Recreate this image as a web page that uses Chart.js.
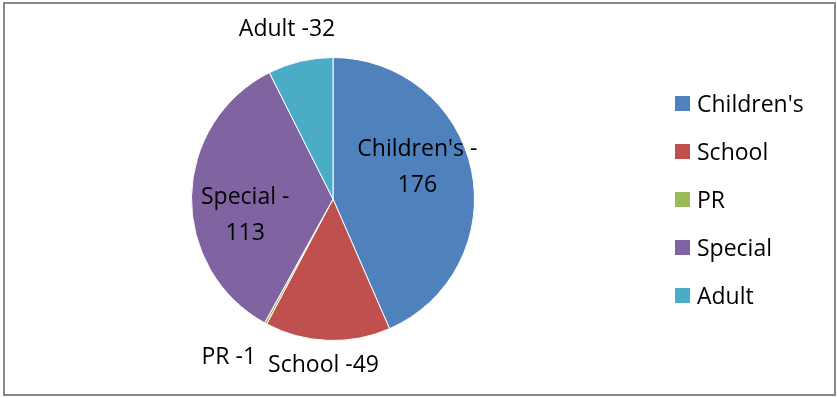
<!DOCTYPE html>
<html>
<head>
<meta charset="utf-8">
<script src="https://cdn.jsdelivr.net/npm/chart.js@4"></script>
<style>
  html, body { margin: 0; padding: 0; background: #fff; }
  #wrap { position: relative; width: 837px; height: 398px; }
  #frame { position: absolute; left: 3px; top: 2px; width: 833px; height: 394px; box-sizing: border-box; border: 2px solid #878787; pointer-events: none; }
  canvas { display: block; }
</style>
</head>
<body>
<div id="wrap">
  <canvas id="pie" width="837" height="398"></canvas>
  <div id="frame"></div>
</div>
<script>
// data
var labels = ["Children's", 'School', 'PR', 'Special', 'Adult'];
// slice sizes as read off the drawn angles (the picture's slices don't follow the label numbers)
var values = [161, 53, 1, 128, 27.5];
var colors = ['#4F81BD', '#C0504D', '#9BBB59', '#8064A2', '#4BACC6'];

// data label texts as printed on the chart
var labelLines = [
  ["Children's -", '176'],
  ['School -49'],
  ['PR -1'],
  ['Special -', '113'],
  ['Adult -32']
];
// label placement: angle shift (deg) from slice middle, distance as radius fraction
var labelShift = [-9.6, 1.1, 5.2, -11, -1.7];
var labelDist  = [0.64, 1.17, 1.33, 0.63, 1.25];

var FONT = '"Open Sans", "DejaVu Sans", sans-serif';

var pieLabels = {
  id: 'pieLabels',
  afterDatasetsDraw: function(chart) {
    var ctx = chart.ctx;
    var meta = chart.getDatasetMeta(0);
    ctx.save();
    ctx.fillStyle = '#000';
    ctx.font = '23px ' + FONT;
    ctx.textAlign = 'center';
    ctx.textBaseline = 'middle';
    meta.data.forEach(function(arc, i) {
      var mid = (arc.startAngle + arc.endAngle) / 2 + labelShift[i] * Math.PI / 180;
      var r = arc.outerRadius * labelDist[i];
      var x = arc.x + Math.cos(mid) * r;
      var y = arc.y + Math.sin(mid) * r + 1.5;
      var lines = labelLines[i];
      var lh = 36;
      lines.forEach(function(t, k) {
        ctx.fillText(t, x, y + (k - (lines.length - 1) / 2) * lh);
      });
    });
    // legend on the right
    var lx = 675, ly = 103.5, step = 48;
    ctx.textAlign = 'left';
    labels.forEach(function(t, i) {
      var y = ly + i * step;
      ctx.fillStyle = colors[i];
      ctx.fillRect(lx, y - 7.5, 15, 15);
      ctx.fillStyle = '#000';
      ctx.fillText(t, lx + 22, y + 1.5);
    });
    ctx.restore();
  }
};

new Chart(document.getElementById('pie').getContext('2d'), {
  type: 'pie',
  data: {
    labels: labels,
    datasets: [{ data: values, backgroundColor: colors, borderColor: '#fff', borderWidth: 1 }]
  },
  options: {
    responsive: false,
    animation: false,
    layout: { padding: { left: 191, right: 362, top: 57, bottom: 57 } },
    plugins: { legend: { display: false }, tooltip: { enabled: false } }
  },
  plugins: [pieLabels]
});
</script>
</body>
</html>
